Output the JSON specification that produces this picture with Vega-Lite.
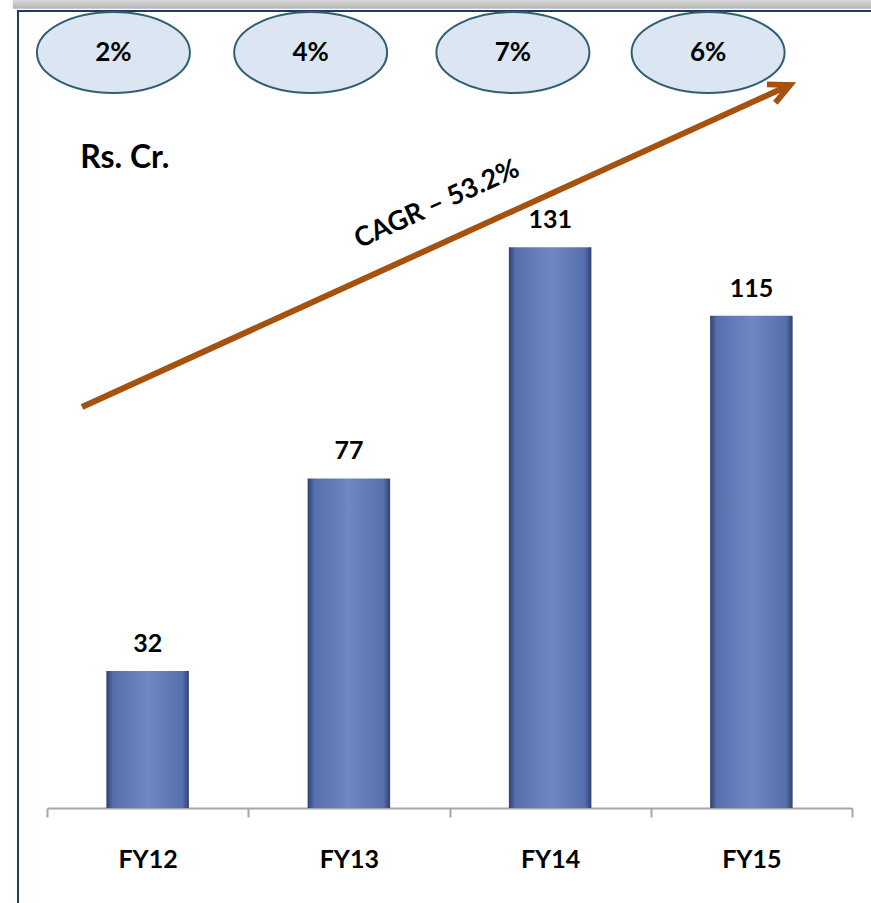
{
  "$schema": "https://vega.github.io/schema/vega-lite/v6.json",
  "width": 854,
  "height": 893,
  "autosize": {"type": "none"},
  "padding": {"left": 18, "top": 11, "right": 0, "bottom": 0},
  "background": "white",
  "config": {"view": {"stroke": "#1f3a5f", "strokeWidth": 2}, "font": "Lato"},
  "datasets": {
    "sales": [
      {"year": "FY12", "value": 32},
      {"year": "FY13", "value": 77},
      {"year": "FY14", "value": 131},
      {"year": "FY15", "value": 115}
    ],
    "growth": [
      {"label": "2%", "slot": 0.33},
      {"label": "4%", "slot": 1.31},
      {"label": "7%", "slot": 2.315},
      {"label": "6%", "slot": 3.285}
    ]
  },
  "layer": [
    {
      "data": {"name": "sales"},
      "encoding": {
        "x": {
          "field": "year", "type": "nominal", "sort": null,
          "scale": {"type": "band", "range": [29, 834], "paddingInner": 0, "paddingOuter": 0},
          "axis": {
            "title": null, "labelAngle": 0, "tickBand": "extent", "tickSize": 9, "tickWidth": 2,
            "tickColor": "#a6a6a6", "domainColor": "#a6a6a6", "domainWidth": 2,
            "labelFont": "Lato", "labelFontWeight": "bold", "labelFontSize": 25, "labelColor": "#000000",
            "labelPadding": 30, "offset": -96
          }
        },
        "y": {"field": "value", "type": "quantitative", "scale": {"domain": [-22.4, 186.2], "nice": false, "zero": false}, "axis": null}
      },
      "layer": [
        {
          "mark": {
            "type": "bar", "width": {"band": 0.41},
            "fill": {"gradient": "linear", "x1": 0, "y1": 0, "x2": 1, "y2": 0,
              "stops": [
                {"offset": 0, "color": "#2f416f"},
                {"offset": 0.08, "color": "#5670ad"},
                {"offset": 0.5, "color": "#6f88c4"},
                {"offset": 0.92, "color": "#5670ad"},
                {"offset": 1, "color": "#2f416f"}
              ]}
          },
          "encoding": {"y2": {"datum": 0}}
        },
        {
          "mark": {"type": "text", "dy": -19, "baseline": "alphabetic", "fontSize": 25, "fontWeight": "bold", "font": "Lato", "color": "#000000"},
          "encoding": {"text": {"field": "value", "type": "quantitative"}}
        }
      ]
    },
    {
      "layer": [
        {
          "data": {"values": [{}]},
          "mark": {"type": "rect", "fill": {"gradient": "linear", "x1": 0, "y1": 0, "x2": 0, "y2": 1,
            "stops": [{"offset": 0, "color": "#e6e6e6"}, {"offset": 1, "color": "#b4b4b4"}]}},
          "encoding": {
            "x": {"datum": -0.17, "type": "quantitative", "scale": {"domain": [0, 4], "range": [29, 834], "nice": false, "zero": false}, "axis": null},
            "x2": {"datum": 4.3},
            "y": {"datum": 186.7, "type": "quantitative", "scale": {"domain": [-22.4, 186.2], "nice": false, "zero": false}, "axis": null},
            "y2": {"datum": 189.5}
          }
        },
        {
          "data": {"name": "growth"},
          "mark": {"type": "point", "shape": "M-1,0A1,0.529,0,1,0,1,0A1,0.529,0,1,0,-1,0Z", "size": 23409, "filled": true,
            "fill": "#dce6f2", "stroke": "#2f5f70", "strokeWidth": 2, "opacity": 1},
          "encoding": {
            "x": {"field": "slot", "type": "quantitative", "scale": {"domain": [0, 4], "range": [29, 834], "nice": false, "zero": false}, "axis": null},
            "y": {"datum": 176.5, "type": "quantitative", "scale": {"domain": [-22.4, 186.2], "nice": false, "zero": false}, "axis": null}
          }
        },
        {
          "data": {"name": "growth"},
          "mark": {"type": "text", "baseline": "middle", "align": "center", "fontSize": 26, "fontWeight": "bold", "font": "Lato", "color": "#000000"},
          "encoding": {
            "x": {"field": "slot", "type": "quantitative", "scale": {"domain": [0, 4], "range": [29, 834], "nice": false, "zero": false}, "axis": null},
            "y": {"datum": 176.5, "type": "quantitative", "scale": {"domain": [-22.4, 186.2], "nice": false, "zero": false}, "axis": null},
            "text": {"field": "label"}
          }
        },
        {
          "data": {"values": [{}]},
          "mark": {"type": "rule", "stroke": "#a5520f", "strokeWidth": 6},
          "encoding": {
            "x": {"datum": 0.174, "type": "quantitative", "scale": {"domain": [0, 4], "range": [29, 834], "nice": false, "zero": false}, "axis": null},
            "x2": {"datum": 3.672},
            "y": {"datum": 93.7, "type": "quantitative", "scale": {"domain": [-22.4, 186.2], "nice": false, "zero": false}, "axis": null},
            "y2": {"datum": 168.5}
          }
        },
        {
          "data": {"values": [{}]},
          "mark": {"type": "point", "shape": "M-1,-0.49L0,0L-1,0.49", "size": 1714, "filled": false, "stroke": "#a5520f",
            "strokeWidth": 6, "opacity": 1, "angle": -24.4, "strokeJoin": "miter"},
          "encoding": {
            "x": {"datum": 3.692, "type": "quantitative", "scale": {"domain": [0, 4], "range": [29, 834], "nice": false, "zero": false}, "axis": null},
            "y": {"datum": 168.9, "type": "quantitative", "scale": {"domain": [-22.4, 186.2], "nice": false, "zero": false}, "axis": null}
          }
        },
        {
          "data": {"values": [{"note": "CAGR – 53.2%"}]},
          "mark": {"type": "text", "angle": -24.4, "align": "center", "baseline": "middle", "fontSize": 27, "fontWeight": "bold", "font": "Lato", "color": "#000000"},
          "encoding": {
            "x": {"datum": 1.938, "type": "quantitative", "scale": {"domain": [0, 4], "range": [29, 834], "nice": false, "zero": false}, "axis": null},
            "y": {"datum": 141.0, "type": "quantitative", "scale": {"domain": [-22.4, 186.2], "nice": false, "zero": false}, "axis": null},
            "text": {"field": "note"}
          }
        },
        {
          "data": {"values": [{"note": "Rs. Cr."}]},
          "mark": {"type": "text", "align": "left", "baseline": "alphabetic", "fontSize": 32, "fontWeight": "bold", "font": "Lato", "color": "#000000"},
          "encoding": {
            "x": {"datum": 0.165, "type": "quantitative", "scale": {"domain": [0, 4], "range": [29, 834], "nice": false, "zero": false}, "axis": null},
            "y": {"datum": 149.5, "type": "quantitative", "scale": {"domain": [-22.4, 186.2], "nice": false, "zero": false}, "axis": null},
            "text": {"field": "note"}
          }
        }
      ]
    }
  ],
  "resolve": {"scale": {"x": "independent"}, "axis": {"x": "independent"}}
}
